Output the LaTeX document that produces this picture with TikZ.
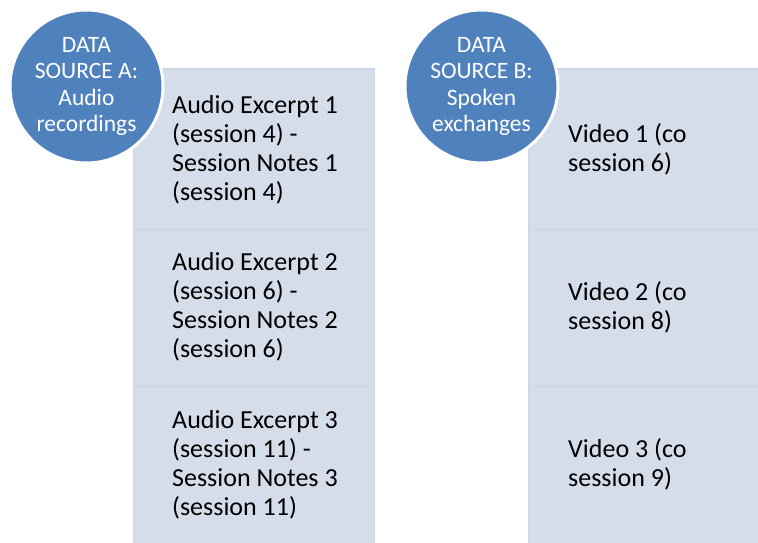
\documentclass[tikz,border=0pt]{standalone}
\usepackage{fontspec}
\setmainfont{Carlito}
\begin{document}
\begin{tikzpicture}[x=1pt,y=1pt,
  rowbox/.style={draw=boxedge, line width=1.5pt, fill=boxfill, inner sep=0pt},
  rowtext/.style={anchor=west, align=left, inner sep=0pt, text=black,
     font=\fontsize{26}{29}\selectfont},
  srccircle/.style={circle, fill=srcblue, draw=white, line width=3pt,
     minimum size=153pt, inner sep=0pt, align=center, text=white,
     font=\fontsize{23.5}{26.5}\selectfont}]
\definecolor{boxfill}{HTML}{D5DCEA}
\definecolor{boxedge}{HTML}{CDD4E3}
\definecolor{srcblue}{HTML}{4F81BD}
\useasboundingbox (0,0) rectangle (758,542);
% left column
\node[rowbox, minimum width=241pt, minimum height=160pt, anchor=north west] (a1) at (132.5,473.5) {};
\node[rowbox, minimum width=241pt, minimum height=157pt, anchor=north west] (a2) at (132.5,313.5) {};
\node[rowbox, minimum width=241pt, minimum height=158pt, anchor=north west] (a3) at (132.5,156.5) {};
% right column
\node[rowbox, minimum width=230pt, minimum height=160pt, anchor=north west] (b1) at (527.5,473.5) {};
\node[rowbox, minimum width=230pt, minimum height=157pt, anchor=north west] (b2) at (527.5,313.5) {};
\node[rowbox, minimum width=230pt, minimum height=158pt, anchor=north west] (b3) at (527.5,156.5) {};
% texts
\node[rowtext] (ta1) at ([xshift=39.5pt,yshift=-0.5pt]a1.west) {Audio Excerpt 1\\(session 4) -\\Session Notes 1\\(session 4)};
\node[rowtext] (ta2) at ([xshift=39.5pt,yshift=0.5pt]a2.west) {Audio Excerpt 2\\(session 6) -\\Session Notes 2\\(session 6)};
\node[rowtext] (ta3) at ([xshift=39.5pt,yshift=0.5pt]a3.west) {Audio Excerpt 3\\(session 11) -\\Session Notes 3\\(session 11)};
\node[rowtext] (tb1) at ([xshift=40.5pt,yshift=-0.5pt]b1.west) {Video 1 (co\\session 6)};
\node[rowtext] (tb2) at ([xshift=40.5pt,yshift=0.5pt]b2.west) {Video 2 (co\\session 8)};
\node[rowtext] (tb3) at ([xshift=40.5pt,yshift=0.5pt]b3.west) {Video 3 (co\\session 9)};
% circles
\node[srccircle] (ca) at (86.5,455.5) {DATA\\SOURCE A:\\Audio\\recordings};
\node[srccircle] (cb) at (481.5,455.5) {DATA\\SOURCE B:\\Spoken\\exchanges};
\end{tikzpicture}
\end{document}
